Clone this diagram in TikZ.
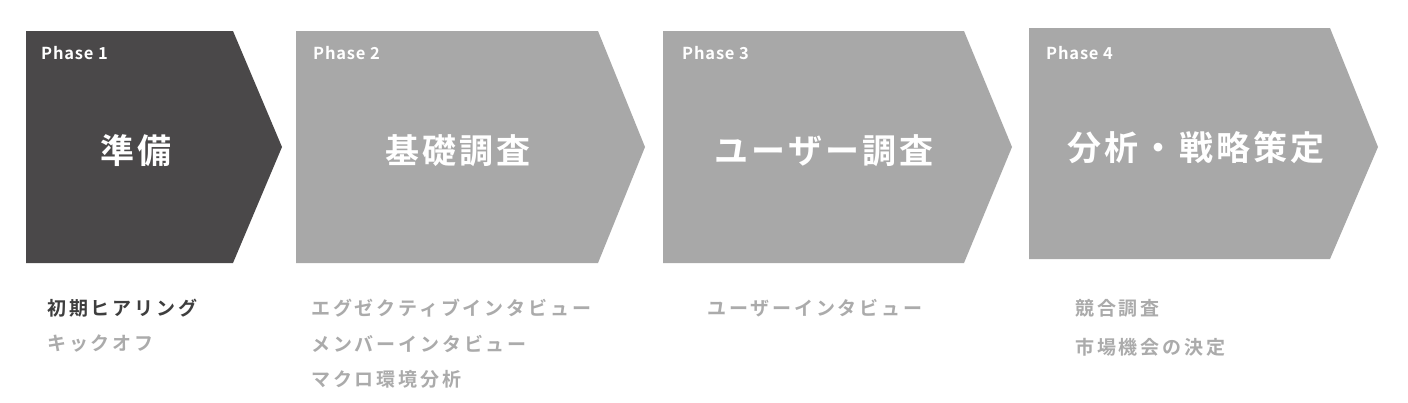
\documentclass[tikz,border=0pt]{standalone}
\usepackage{fontspec}
\setmainfont{Noto Sans CJK JP}
\newfontfamily\jpb[LetterSpace=9]{Noto Sans CJK JP Bold}
\newfontfamily\jpl[LetterSpace=15]{Noto Sans CJK JP Bold}
\newfontfamily\lat[LetterSpace=5]{Noto Sans CJK JP Bold}
\definecolor{darkbox}{HTML}{4A4849}
\definecolor{graybox}{HTML}{A8A8A8}
\definecolor{darktxt}{HTML}{3E3E3E}
\definecolor{graytxt}{HTML}{ABABAB}
\begin{document}
\begin{tikzpicture}[x=1pt,y=-1pt,
  phaselab/.style={anchor=base west,inner sep=0pt,text=white,font=\lat\fontsize{16.5}{19}\selectfont},
  titletxt/.style={anchor=center,inner sep=0pt,text=white,font=\jpb\fontsize{34}{40}\selectfont},
  itemtxt/.style={anchor=west,inner sep=0pt,text=graytxt,font=\jpl\fontsize{19}{22}\selectfont},
  itemdark/.style={itemtxt,text=darktxt}]
\useasboundingbox (0,0) rectangle (1408,402);
\fill[white] (0,0) rectangle (1408,402);
% arrow shapes
\fill[darkbox] (26,31) -- (233,31) -- (282,147) -- (233,263) -- (26,263) -- cycle;
\fill[graybox] (296,31) -- (598,31) -- (645,147) -- (598,263) -- (296,263) -- cycle;
\fill[graybox] (663,31) -- (964,31) -- (1012,147) -- (964,263) -- (663,263) -- cycle;
\fill[graybox] (1029,28) -- (1330,28) -- (1378,147) -- (1330,259) -- (1029,259) -- cycle;
% phase labels
\node[phaselab] (lab1) at (41,59) {Phase 1};
\node[phaselab] (lab2) at (313,59) {Phase 2};
\node[phaselab] (lab3) at (682,59) {Phase 3};
\node[phaselab] (lab4) at (1046,59) {Phase 4};
% titles
\node[titletxt] (t1) at (136,151) {準備};
\node[titletxt] (t2) at (458,151) {基礎調査};
\node[titletxt] (t3) at (824,151) {ユーザー調査};
\node[titletxt] (t4) at (1196,148) {分析・戦略策定};
% lists
\node[itemdark] (a1) at (47,308) {初期ヒアリング};
\node[itemtxt] (a2) at (47,343.5) {キックオフ};
\node[itemtxt] (b1) at (311,308) {エグゼクティブインタビュー};
\node[itemtxt] (b2) at (311,343.5) {メンバーインタビュー};
\node[itemtxt] (b3) at (311,379) {マクロ環境分析};
\node[itemtxt] (c1) at (707,308) {ユーザーインタビュー};
\node[itemtxt] (d1) at (1075,308) {競合調査};
\node[itemtxt] (d2) at (1075,347) {市場機会の決定};
\end{tikzpicture}
\end{document}
